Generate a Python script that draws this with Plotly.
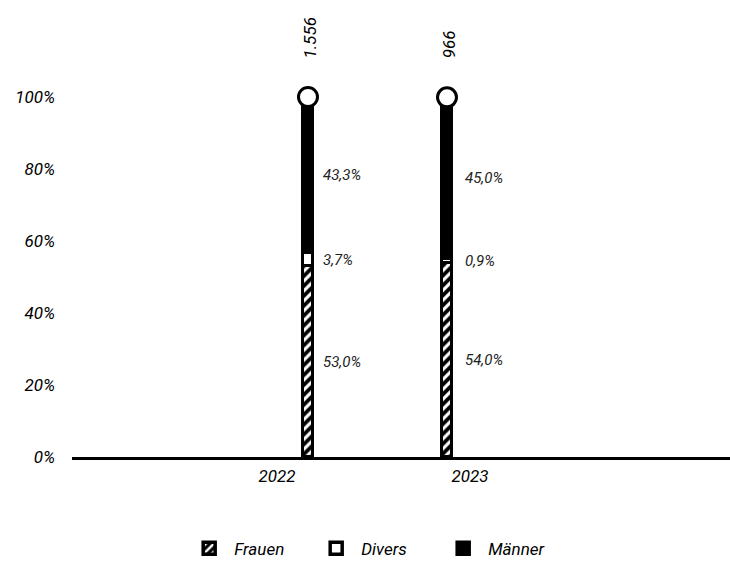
import plotly.graph_objects as go

# Anteile nach Geschlecht je Jahr (in %)
jahre = ["2022", "2023"]
frauen = [53.0, 54.0]
divers = [3.7, 0.9]
maenner = [43.3, 45.0]
gesamt = ["1.556", "966"]

FONT = "Roboto"
pos = list(range(len(jahre)))
bar_w = 0.0755

fig = go.Figure()

common = dict(x=pos, width=bar_w, cliponaxis=False, hoverinfo="skip")
fig.add_trace(go.Bar(
    name="Frauen", y=frauen, **common,
    marker=dict(color="black",
                line=dict(color="black", width=3.5),
                pattern=dict(shape="/", bgcolor="black", fgcolor="white",
                             size=7, solidity=0.45, fillmode="replace")),
))
fig.add_trace(go.Bar(
    name="Divers", y=divers, **common,
    marker=dict(color="white", line=dict(color="black", width=3.5)),
))
fig.add_trace(go.Bar(
    name="Männer", y=maenner, **common,
    marker=dict(color="black", line=dict(color="black", width=3.5)),
))

# Kreis am oberen Ende jeder Säule
tops = [f + d + m for f, d, m in zip(frauen, divers, maenner)]
fig.add_trace(go.Scatter(
    x=pos, y=tops, mode="markers", showlegend=False, cliponaxis=False,
    hoverinfo="skip",
    marker=dict(size=19, color="white", line=dict(color="black", width=3)),
))

annotations = []
for i in pos:
    # Gesamtzahl über der Säule, senkrecht
    annotations.append(dict(
        x=i, y=tops[i], xref="x", yref="y", text=gesamt[i], showarrow=False,
        textangle=-90, yanchor="bottom", xanchor="center", yshift=37,
        xshift=2,
        font=dict(family=FONT, size=17, color="black", style="italic"),
    ))
    # Prozentwerte rechts neben den Segmenten
    base = 0.0
    for vals in (frauen, divers, maenner):
        v = vals[i]
        annotations.append(dict(
            x=i, y=base + v / 2, xref="x", yref="y",
            text=f"{v:.1f}%".replace(".", ","), showarrow=False,
            xanchor="left", yanchor="middle", xshift=13 + 3 * i,
            font=dict(family=FONT, size=15, color="#222", style="italic"),
        ))
        base += v

fig.update_layout(
    width=730, height=569,
    margin=dict(l=72, r=0, t=97, b=112),
    paper_bgcolor="white", plot_bgcolor="white",
    barmode="stack", bargap=0,
    showlegend=True,
    legend=dict(orientation="h", x=0.46, xanchor="center", y=-0.255,
                yanchor="middle", entrywidth=72, entrywidthmode="pixels",
                font=dict(family=FONT, size=17, color="black", style="italic"),
                itemwidth=40, traceorder="normal"),
    font=dict(family=FONT, style="italic", color="black"),
    annotations=annotations,
    xaxis=dict(range=[-1.6978, 3.036], showgrid=False, zeroline=False,
               showticklabels=False, showline=True, linecolor="black",
               linewidth=3, fixedrange=True),
    xaxis2=dict(overlaying="x", side="bottom", range=[-1.062, 2.347],
                tickmode="array", tickvals=pos, ticktext=jahre,
                showgrid=False, zeroline=False, showline=False,
                ticks="", ticklabelstandoff=7,
                tickfont=dict(family=FONT, size=17, color="black",
                              style="italic")),
    yaxis=dict(range=[0, 100], tickvals=[0, 20, 40, 60, 80, 100],
               ticktext=["0%", "20%", "40%", "60%", "80%", "100%"],
               showgrid=False, zeroline=False, showline=False, ticks="",
               ticklabelstandoff=16,
               tickfont=dict(family=FONT, size=17, color="black",
                             style="italic")),
)

# unsichtbare Spur, damit die zweite x-Achse gezeichnet wird
fig.add_trace(go.Scatter(x=[0], y=[0], xaxis="x2", mode="markers",
                         marker=dict(opacity=0), showlegend=False,
                         hoverinfo="skip"))

fig.write_html("out.html")
